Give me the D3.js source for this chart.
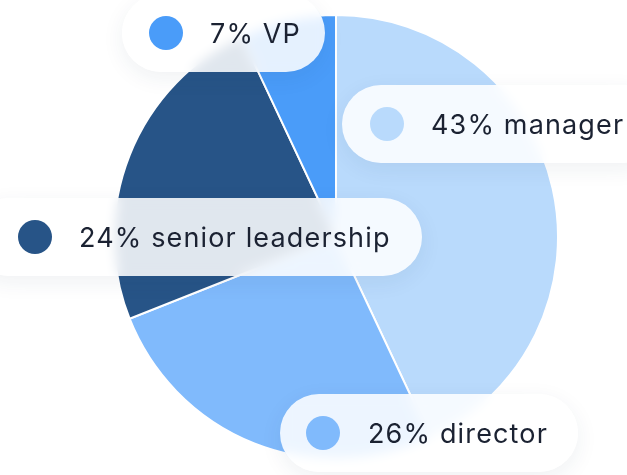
<!DOCTYPE html>
<html>
<head>
<meta charset="utf-8">
<script src="https://cdn.jsdelivr.net/npm/d3@7"></script>
<style>
  html, body { margin: 0; padding: 0; background: #fff; }
  #wrap { position: relative; width: 627px; height: 475px; overflow: hidden; }
  svg { position: absolute; left: 0; top: 0; }
  .pill {
    position: absolute;
    height: 78px;
    border-radius: 39px;
    background: rgba(255,255,255,0.86);
    backdrop-filter: blur(6px);
    -webkit-backdrop-filter: blur(6px);
    box-shadow: 0 6px 22px rgba(30,50,80,0.07);
    box-sizing: border-box;
  }
  .dot { position: absolute; width: 34px; height: 34px; border-radius: 17px; top: 22px; }
  .lbl {
    position: absolute; top: 1px; line-height: 78px;
    font-family: "Inter", "Open Sans", sans-serif; font-size: 27px; font-weight: 400; color: #1b2232;
    white-space: nowrap; letter-spacing: 1.15px;
  }
</style>
</head>
<body>
<div id="wrap"></div>
<script>
const categories = ["manager", "director", "senior leadership", "VP"];
const values = [43, 26, 24, 7];
const colors = ["#b9dafc", "#80bafc", "#275487", "#4a9cf9"];

const W = 627, H = 475;
const cx = 336, cy = 237, R = 222;

const wrap = d3.select("#wrap");
const svg = wrap.append("svg").attr("width", W).attr("height", H);

const pie = d3.pie().sort(null).value(d => d.v);
const arc = d3.arc().innerRadius(0).outerRadius(R);
const data = categories.map((c, i) => ({ c, v: values[i], col: colors[i] }));

svg.append("g").attr("transform", `translate(${cx},${cy})`)
  .selectAll("path").data(pie(data)).join("path")
  .attr("d", arc).attr("fill", d => d.data.col)
  .attr("stroke", "#fff").attr("stroke-width", 2);

// label pill layout: pill left, top, width, dot centre x, text x (absolute)
const pillLayout = {
  "manager": [342, 85, 320, 387, 431],
  "director": [280, 394, 298, 323, 368],
  "senior leadership": [-30, 198, 452, 35, 79],
  "VP": [122, -6, 203, 166, 210]
};

data.forEach(d => {
  const [l, t, w, dx, tx] = pillLayout[d.c];
  const p = wrap.append("div").attr("class", "pill")
    .style("left", l + "px").style("top", t + "px").style("width", w + "px");
  p.append("div").attr("class", "dot")
    .style("left", (dx - 17 - l) + "px").style("background", d.col);
  p.append("div").attr("class", "lbl")
    .style("left", (tx - l) + "px")
    .text(`${d.v}% ${d.c}`);
});
</script>
</body>
</html>
